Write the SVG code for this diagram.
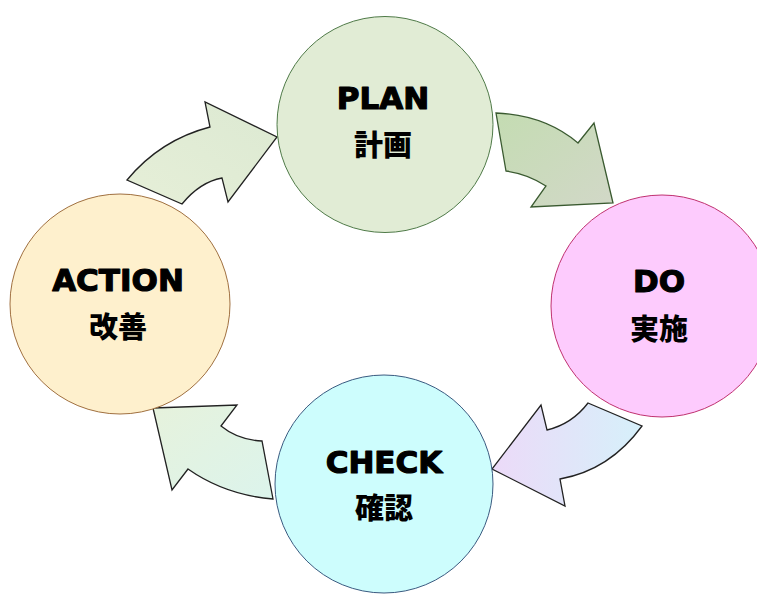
<svg xmlns="http://www.w3.org/2000/svg" width="757" height="596" viewBox="0 0 757 596">
<defs>
<linearGradient id="g1" x1="0" y1="1" x2="1" y2="0"><stop offset="0" stop-color="#e6efd8"/><stop offset="1" stop-color="#dce9d2"/></linearGradient>
<linearGradient id="g2" x1="0" y1="0" x2="1" y2="1"><stop offset="0" stop-color="#c4dcb2"/><stop offset="1" stop-color="#d2d8c8"/></linearGradient>
<linearGradient id="g3" x1="0" y1="0" x2="1" y2="0"><stop offset="0" stop-color="#ecdaf8"/><stop offset="1" stop-color="#d6f0fa"/></linearGradient>
<linearGradient id="g4" x1="0" y1="0" x2="1" y2="1"><stop offset="0" stop-color="#e6f2dc"/><stop offset="1" stop-color="#dcf4ec"/></linearGradient>
</defs>
<style>
.en{font-family:"DejaVu Sans","Liberation Sans",sans-serif;font-weight:bold;font-size:31px;text-anchor:middle;fill:#000;stroke:#000;stroke-width:1.2;stroke-linejoin:round}
.jp{font-family:"Noto Sans CJK JP","Noto Sans CJK SC",sans-serif;font-weight:900;font-size:29px;text-anchor:middle;fill:#000}
.arr{stroke-width:1.3;stroke-linejoin:miter}
.node circle{stroke-width:1}
</style>
<rect width="757" height="596" fill="#ffffff"/>
<g id="connectors">
<path class="arr" d="M127,180 Q160,140 210,127 L205,102 L277,137 L228,202 L222,178 Q200,182 182,204 Z" fill="url(#g1)" stroke="#222"/>
<path class="arr" d="M496,113 Q545,115 578,143 L594,123 L613,203 L531,207 L546,186 Q528,174 506,171 Z" fill="url(#g2)" stroke="#3a5a30"/>
<path class="arr" d="M588,403 L642,426 Q610,470 560,479 L565,506 L492,469 L541,405 L547,430 Q572,424 588,403 Z" fill="url(#g3)" stroke="#222"/>
<path class="arr" d="M153,408 L237,405 L221,426 Q238,440 262,441 L273,499 Q225,495 188,469 L172,490 Z" fill="url(#g4)" stroke="#222"/>
</g>
<g id="plan" class="node">
<circle cx="385" cy="124.5" r="108" fill="#e1ecd5" stroke="#4f7a48"/>
<text class="en" x="383" y="109">PLAN</text>
<text class="jp" x="383" y="156">計画</text>
</g>
<g id="do" class="node">
<circle cx="662" cy="306" r="111" fill="#fdcbfd" stroke="#c03070"/>
<text class="en" x="659" y="292">DO</text>
<text class="jp" x="659" y="340">実施</text>
</g>
<g id="check" class="node">
<circle cx="384" cy="484" r="109" fill="#cdfdfd" stroke="#3a5a80"/>
<text class="en" x="384" y="473">CHECK</text>
<text class="jp" x="384" y="519">確認</text>
</g>
<g id="action" class="node">
<circle cx="120" cy="304" r="110" fill="#fef0cd" stroke="#a07040"/>
<text class="en" x="118" y="291">ACTION</text>
<text class="jp" x="118" y="338">改善</text>
</g>
</svg>
